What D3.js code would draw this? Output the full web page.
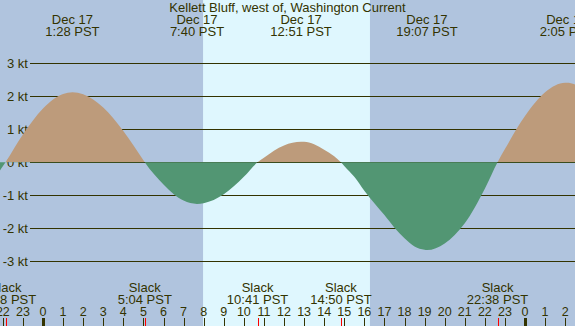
<!DOCTYPE html>
<html>
<head>
<meta charset="utf-8">
<script src="https://cdn.jsdelivr.net/npm/d3@7"></script>
<style>
  html, body { margin: 0; padding: 0; background: #b0c4de; }
  svg { display: block; }
  text { font-family: "Liberation Sans", Arial, sans-serif; fill: #333300; }
</style>
</head>
<body>
<script>
// ---- data (hours relative to midnight starting Dec 17) ----
const title = "Kellett Bluff, west of, Washington Current";
const sampleHours = [-3, -2, -1.867, -1, 0, 1, 1.467, 2, 3, 4, 5, 5.067, 6, 7, 7.667, 8, 9, 10, 10.683, 11, 12, 12.85, 13, 13.5, 14, 14.5, 14.833, 15, 15.5, 16, 16.5, 17, 17.5, 18, 18.5, 19, 19.117, 20, 21, 22, 22.633, 23, 24, 25, 26, 26.083, 27];
const sampleKnots = [-0.97, -0.12, 0, 0.84, 1.63, 2.07, 2.12, 2.06, 1.66, 0.95, 0.06, 0, -0.67, -1.16, -1.26, -1.24, -0.97, -0.44, 0, 0.14, 0.51, 0.62, 0.62, 0.55, 0.38, 0.18, 0, -0.11, -0.44, -0.86, -1.24, -1.6, -1.98, -2.3, -2.55, -2.65, -2.66, -2.46, -1.85, -0.8, 0, 0.40, 1.40, 2.12, 2.41, 2.41, 2.20];

const peakHours = [1.467, 7.667, 12.85, 19.117, 26.083];
const peakDates = ["Dec 17", "Dec 17", "Dec 17", "Dec 17", "Dec 17"];
const peakTimes = ["1:28 PST", "7:40 PST", "12:51 PST", "19:07 PST", "2:05 PST"];

const slackHours = [-1.867, 5.067, 10.683, 14.833, 22.633];
const slackTimes = ["22:08 PST", "5:04 PST", "10:41 PST", "14:50 PST", "22:38 PST"];

const daylight = [[7.97, 16.28]];
const yTicks = [-3, -2, -1, 0, 1, 2, 3];
const hourTicks = d3.range(-2, 27);

// ---- layout ----
const W = 575, H = 326;
const x = d3.scaleLinear().domain([0, 24]).range([43, 525]);
const y = d3.scaleLinear().domain([-3, 3]).range([261.3, 63.3]);
const yZero = Math.round(y(0));

const svg = d3.select("body").append("svg").attr("width", W).attr("height", H);

svg.append("rect").attr("width", W).attr("height", H).attr("fill", "#b0c4de");
svg.selectAll("rect.day").data(daylight).enter().append("rect")
  .attr("class", "day")
  .attr("x", d => x(d[0])).attr("width", d => x(d[1]) - x(d[0]))
  .attr("y", 0).attr("height", H).attr("fill", "#dff7fe");

// gridlines
svg.selectAll("line.grid").data(yTicks).enter().append("line")
  .attr("class", "grid")
  .attr("x1", 30).attr("x2", W)
  .attr("y1", d => Math.round(y(d)) + 0.5).attr("y2", d => Math.round(y(d)) + 0.5)
  .attr("stroke", "#333300").attr("stroke-width", 1);

svg.selectAll("text.ylab").data(yTicks).enter().append("text")
  .attr("class", "ylab")
  .attr("x", 28).attr("y", d => Math.round(y(d)) + 5)
  .attr("text-anchor", "end").attr("font-size", 13)
  .text(d => d + " kt");

// areas
const defs = svg.append("defs");
defs.append("clipPath").attr("id", "above").append("rect")
  .attr("x", 0).attr("y", 0).attr("width", W).attr("height", yZero);
defs.append("clipPath").attr("id", "below").append("rect")
  .attr("x", 0).attr("y", yZero).attr("width", W).attr("height", H - yZero);

const pts = sampleHours.map((h, i) => [h, sampleKnots[i]]);
const area = d3.area().x(d => x(d[0])).y0(y(0)).y1(d => y(d[1])).curve(d3.curveMonotoneX);

svg.append("path").attr("d", area(pts)).attr("fill", "#bd9b7b").attr("clip-path", "url(#above)");
svg.append("path").attr("d", area(pts)).attr("fill", "#529673").attr("clip-path", "url(#below)");

// top labels
const peakG = svg.selectAll("g.peak").data(peakHours).enter().append("g").attr("class", "peak");
peakG.append("text").attr("x", d => x(d)).attr("y", 24).attr("text-anchor", "middle")
  .attr("font-size", 13).text((d, i) => peakDates[i]);
peakG.append("text").attr("x", d => x(d)).attr("y", 36).attr("text-anchor", "middle")
  .attr("font-size", 13).text((d, i) => peakTimes[i]);

svg.append("text").attr("x", W / 2).attr("y", 12).attr("text-anchor", "middle")
  .attr("font-size", 13).text(title);

// bottom slack labels
const slackG = svg.selectAll("g.slack").data(slackHours).enter().append("g").attr("class", "slack");
slackG.append("text").attr("x", d => x(d)).attr("y", 292).attr("text-anchor", "middle")
  .attr("font-size", 13).text("Slack");
slackG.append("text").attr("x", d => x(d)).attr("y", 304).attr("text-anchor", "middle")
  .attr("font-size", 13).text((d, i) => slackTimes[i]);

// hour axis
svg.selectAll("text.hr").data(hourTicks).enter().append("text")
  .attr("class", "hr")
  .attr("x", d => x(d)).attr("y", 316).attr("text-anchor", "middle")
  .attr("font-size", 12.5).text(d => ((d % 24) + 24) % 24);
svg.selectAll("line.tick").data(hourTicks).enter().append("line")
  .attr("class", "tick")
  .attr("x1", d => Math.round(x(d)) + 0.5).attr("x2", d => Math.round(x(d)) + 0.5)
  .attr("y1", 318).attr("y2", H)
  .attr("stroke", "#333300")
  .attr("stroke-width", d => (((d % 24) + 24) % 24) === 0 ? 3 : 1);
svg.selectAll("line.slk").data(slackHours).enter().append("line")
  .attr("class", "slk")
  .attr("x1", d => Math.round(x(d)) + 0.5).attr("x2", d => Math.round(x(d)) + 0.5)
  .attr("y1", 318).attr("y2", H)
  .attr("stroke", "#ff0000").attr("stroke-width", 1);
</script>
</body>
</html>
